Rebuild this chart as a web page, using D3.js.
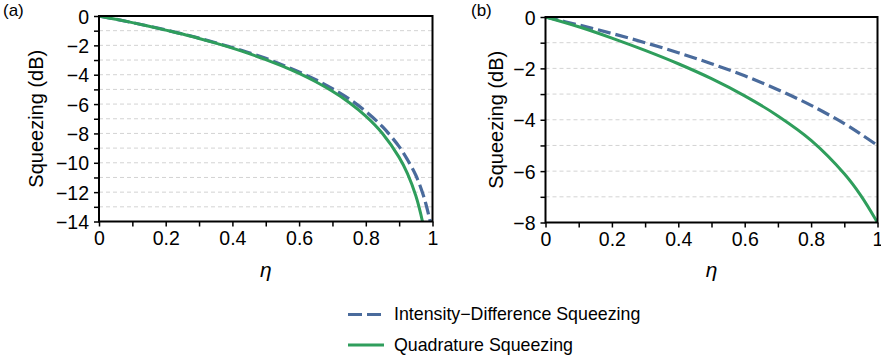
<!DOCTYPE html>
<html><head><meta charset="utf-8">
<script src="https://cdn.jsdelivr.net/npm/d3@7"></script>
<style>
html,body{margin:0;padding:0;background:#fff;}
svg text{font-family:"Liberation Sans",Arial,Helvetica,sans-serif;fill:#000;}
</style></head>
<body>
<svg id="chart" width="881" height="360"></svg>
<script>
// ---- data ----
const etaA = [0,0.05,0.1,0.15,0.2,0.25,0.3,0.35,0.4,0.45,0.5,0.55,0.6,0.65,0.7,0.75,0.8,0.85,0.9,0.925,0.95,0.97,0.98,0.99,1.0];
const quadA = [0,-0.22,-0.45,-0.70,-0.96,-1.23,-1.53,-1.85,-2.19,-2.56,-2.97,-3.41,-3.91,-4.48,-5.13,-5.89,-6.82,-8.00,-9.63,-10.74,-12.25,-14.01,-15.26,-17.0,-19.0];
const idsA  = [0,-0.22,-0.45,-0.69,-0.95,-1.22,-1.51,-1.82,-2.15,-2.50,-2.88,-3.34,-3.81,-4.34,-4.95,-5.65,-6.50,-7.54,-8.90,-9.79,-10.85,-12.04,-12.79,-13.70,-14.71];
const etaB = [0,0.1,0.2,0.3,0.4,0.5,0.6,0.7,0.8,0.9,0.95,1.0];
const quadB = [0,-0.38,-0.82,-1.30,-1.82,-2.40,-3.07,-3.85,-4.80,-6.10,-6.95,-8.0];
const idsB  = [0,-0.31,-0.64,-1.00,-1.39,-1.82,-2.29,-2.83,-3.44,-4.15,-4.56,-5.0];
const xTickValues = [0,0.2,0.4,0.6,0.8,1];
const xTickLabels = ["0","0.2","0.4","0.6","0.8","1"];
const yTicksA = [0,-2,-4,-6,-8,-10,-12,-14];
const yTicksB = [0,-2,-4,-6,-8];
const seriesNames = ["Intensity\u2212Difference Squeezing","Quadrature Squeezing"];
const panelLabels = ["(a)","(b)"];

const blue = "#4a6b9c", green = "#2f9e5c";
const svg = d3.select("#chart");

function panel(cfg){
  const {x0,x1,y0,y1,ymin,eta,quad,ids,yTicks,label,labelX,titleX,id} = cfg;
  const x = d3.scaleLinear().domain([0,1]).range([x0,x1]);
  const y = d3.scaleLinear().domain([ymin,0]).range([y1,y0]);
  const g = svg.append("g");
  // grid
  const gridVals = d3.range(-1, ymin, -1);
  g.selectAll("line.grid").data(gridVals).enter().append("line")
    .attr("x1",x0).attr("x2",x1).attr("y1",d=>y(d)).attr("y2",d=>y(d))
    .attr("stroke","#d3d3d3").attr("stroke-width",1).attr("stroke-dasharray","4,3");
  // clip
  svg.append("clipPath").attr("id","clip"+id).append("rect")
    .attr("x",x0).attr("y",y0).attr("width",x1-x0).attr("height",y1-y0);
  const line = d3.line().x(d=>x(d[0])).y(d=>y(d[1])).curve(d3.curveCatmullRom.alpha(0.5));
  const gl = g.append("g").attr("clip-path","url(#clip"+id+")");
  gl.append("path").datum(eta.map((e,i)=>[e,ids[i]])).attr("d",line)
    .attr("fill","none").attr("stroke",blue).attr("stroke-width",3.2).attr("stroke-dasharray","13,5");
  gl.append("path").datum(eta.map((e,i)=>[e,quad[i]])).attr("d",line)
    .attr("fill","none").attr("stroke",green).attr("stroke-width",3);
  // axes
  const xAxis = d3.axisBottom(x).tickValues(d3.range(0,1.0001,0.1)).tickSize(5).tickSizeOuter(0)
    .tickFormat(d=>{const k=xTickValues.findIndex(v=>Math.abs(v-d)<1e-6);return k>=0?xTickLabels[k]:"";});
  const ax = g.append("g").attr("transform",`translate(0,${y1})`).call(xAxis);
  ax.select(".domain").remove();
  ax.selectAll("line").attr("stroke","#000").attr("stroke-width",1.5);
  ax.selectAll("text").attr("font-size",19.5).attr("dy","0.71em").attr("y",10);
  const yAxis = d3.axisLeft(y).tickValues(d3.range(0,ymin-0.001,-1)).tickSize(5).tickSizeOuter(0)
    .tickFormat(d=>yTicks.includes(d)?d3.format("d")(d):"");
  const ay = g.append("g").attr("transform",`translate(${x0},0)`).call(yAxis);
  ay.select(".domain").remove();
  ay.selectAll("line").attr("stroke","#000").attr("stroke-width",1.5);
  ay.selectAll("text").attr("font-size",19.5).attr("x",-10).attr("dy","0.36em");
  // frame
  g.append("rect").attr("x",x0).attr("y",y0).attr("width",x1-x0).attr("height",y1-y0)
    .attr("fill","none").attr("stroke","#000").attr("stroke-width",2);
  // titles
  g.append("text").attr("transform",`translate(${titleX},${(y0+y1)/2}) rotate(-90)`)
    .attr("text-anchor","middle").attr("font-size",20).text("Squeezing (dB)");
  g.append("text").attr("x",(x0+x1)/2).attr("y",277).attr("text-anchor","middle")
    .attr("font-size",21).attr("font-style","italic").text("\u03b7");
  g.append("text").attr("x",labelX).attr("y",15.5).attr("font-size",17).text(label);
}

panel({id:"a",x0:99,x1:432.5,y0:16,y1:221.5,ymin:-14,eta:etaA,quad:quadA,ids:idsA,yTicks:yTicksA,label:panelLabels[0],labelX:3,titleX:43});
panel({id:"b",x0:545.5,x1:877.5,y0:17,y1:222.5,ymin:-8,eta:etaB,quad:quadB,ids:idsB,yTicks:yTicksB,label:panelLabels[1],labelX:471,titleX:503});

// legend
const leg = svg.append("g");
const legY = [314.5,345];
leg.append("line").attr("x1",348).attr("x2",382).attr("y1",legY[0]).attr("y2",legY[0])
  .attr("stroke",blue).attr("stroke-width",3.2).attr("stroke-dasharray","14,5");
leg.append("line").attr("x1",348).attr("x2",384).attr("y1",legY[1]).attr("y2",legY[1])
  .attr("stroke",green).attr("stroke-width",3);
leg.selectAll("text").data(seriesNames).enter().append("text")
  .attr("x",394).attr("y",(d,i)=>legY[i]+4).attr("dy","0.1em").attr("font-size",17.8).text(d=>d);
</script>
</body></html>
